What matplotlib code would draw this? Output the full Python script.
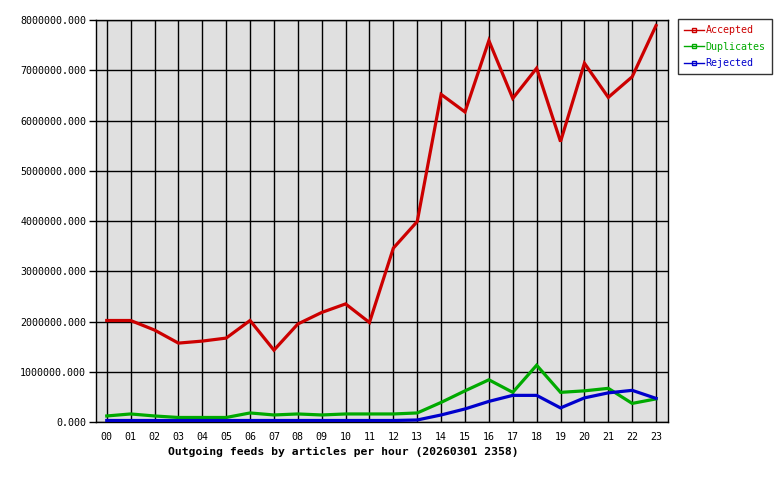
import matplotlib.pyplot as plt
from matplotlib.lines import Line2D

hours = ["00", "01", "02", "03", "04", "05", "06", "07", "08", "09", "10", "11",
         "12", "13", "14", "15", "16", "17", "18", "19", "20", "21", "22", "23"]

accepted = [2020000, 2020000, 1830000, 1570000, 1610000, 1670000, 2020000, 1430000,
            1950000, 2180000, 2350000, 1980000, 3460000, 3990000, 6520000, 6170000,
            7590000, 6440000, 7040000, 5580000, 7140000, 6460000, 6870000, 7890000]
duplicates = [120000, 160000, 120000, 90000, 90000, 90000, 180000, 140000,
              160000, 140000, 160000, 160000, 160000, 180000, 390000, 620000,
              840000, 590000, 1130000, 590000, 620000, 670000, 370000, 460000]
rejected = [30000, 30000, 30000, 30000, 30000, 30000, 30000, 30000,
            30000, 30000, 30000, 30000, 30000, 40000, 140000, 260000,
            410000, 530000, 530000, 280000, 480000, 580000, 630000, 470000]

series = [("Accepted", accepted, "#cc0000"),
          ("Duplicates", duplicates, "#00aa00"),
          ("Rejected", rejected, "#0000cc")]

plt.rcParams['font.family'] = 'DejaVu Sans Mono'

fig = plt.figure(figsize=(7.8, 4.8), dpi=100)
ax = fig.add_axes([96 / 780, 1 - 422 / 480, (668 - 96) / 780, (422 - 20) / 480])
ax.set_facecolor("#e0e0e0")

x = list(range(len(hours)))
for name, vals, col in series:
    ax.plot(x, vals, color=col, lw=2.3, solid_joinstyle='miter', zorder=3)

ax.set_xlim(-0.45, 23.5)
ax.set_ylim(0, 8000000)
ax.set_xticks(x)
ax.set_xticklabels(hours, fontsize=7.2)
yt = list(range(0, 8000001, 1000000))
ax.set_yticks(yt)
ax.set_yticklabels(["%.3f" % v for v in yt], fontsize=7.2)
ax.grid(True, color="black", lw=1, zorder=1)
ax.set_axisbelow(True)
ax.tick_params(axis='y', length=5, width=1, pad=2)
ax.tick_params(axis='x', length=0, pad=7)
for s in ax.spines.values():
    s.set_linewidth(1)

fig.text(343 / 780, 1 - 452 / 480, "Outgoing feeds by articles per hour (20260301 2358)",
         ha='center', va='center', fontsize=8.2, fontweight='bold')

handles = [Line2D([], [], color=c, lw=1, marker='s', markersize=3,
                  markerfacecolor='none', markeredgecolor=c) for _, _, c in series]
leg = fig.legend(handles, [n for n, _, _ in series], loc='upper left',
                 bbox_to_anchor=(678 / 780, 1 - 19 / 480), fontsize=7.2,
                 handlelength=2.0, handletextpad=0.15, borderpad=0.6,
                 labelspacing=0.65, borderaxespad=0, fancybox=False, frameon=True)
leg.get_frame().set_edgecolor("black")
leg.get_frame().set_linewidth(1)
for t, (_, _, c) in zip(leg.get_texts(), series):
    t.set_color(c)

fig.savefig("out.png", dpi=100)
